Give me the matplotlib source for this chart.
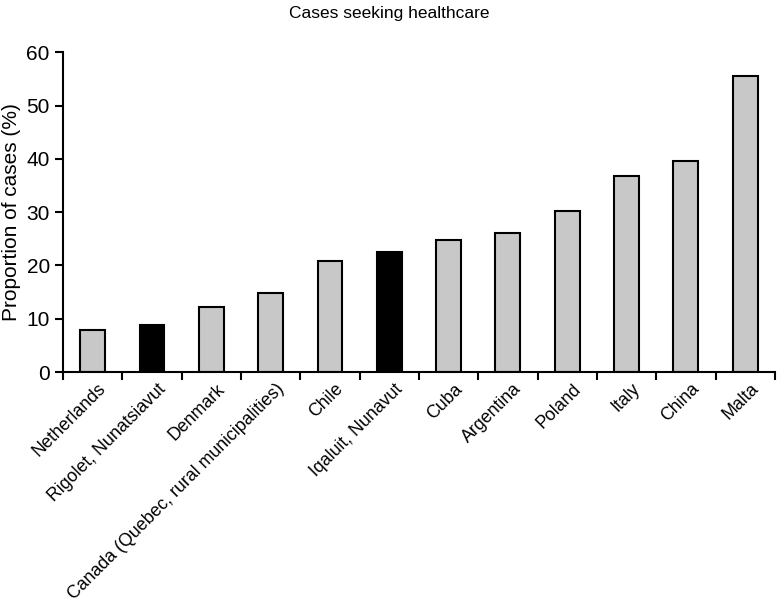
import matplotlib
matplotlib.use("Agg")
import matplotlib.pyplot as plt
import matplotlib.transforms as mtransforms
import numpy as np

plt.rcParams['font.family'] = ['Liberation Sans', 'DejaVu Sans']

places = ['Netherlands', 'Rigolet, Nunatsiavut', 'Denmark',
          'Canada (Quebec, rural municipalities)', 'Chile', 'Iqaluit, Nunavut',
          'Cuba', 'Argentina', 'Poland', 'Italy', 'China', 'Malta']
proportions = [7.9, 8.9, 12.2, 14.9, 20.9, 22.5, 24.7, 26.1, 30.3, 36.7, 39.5, 55.6]
inuit = [False, True, False, False, False, True, False, False, False, False, False, False]

fig = plt.figure(figsize=(7.78, 6.07), dpi=100)
ax = fig.add_axes([0.081, 0.387, 0.915, 0.527])

x = np.arange(len(places))
colours = ['black' if f else '#c8c8c8' for f in inuit]
ax.bar(x, proportions, width=0.42, color=colours, edgecolor='black', linewidth=1.5)

ax.set_xlim(-0.5, len(places) - 0.5)
ax.set_ylim(0, 60)
ax.set_yticks(range(0, 61, 10))

# category labels on the bar centres, tick marks between the bars
ax.set_xticks(x)
ax.set_xticklabels(places, rotation=45, ha='right', rotation_mode='anchor', fontsize=12.8)
ax.tick_params(axis='x', which='major', length=0, pad=6)
shift = mtransforms.ScaledTranslation(5 / 100, 0, fig.dpi_scale_trans)
for lab in ax.get_xticklabels():
    lab.set_transform(lab.get_transform() + shift)
ax.set_xticks(np.arange(-0.5, len(places), 1), minor=True)
ax.tick_params(axis='x', which='minor', length=6, width=1.5, direction='out')
ax.tick_params(axis='y', length=6, width=1.5, direction='out', labelsize=15)

for s in ['top', 'right']:
    ax.spines[s].set_visible(False)
for s in ['left', 'bottom']:
    ax.spines[s].set_linewidth(1.5)

ax.set_ylabel('Proportion of cases (%)', fontsize=15)
fig.text(0.5, 0.99, 'Cases seeking healthcare', ha='center', va='top', fontsize=12.5)

fig.savefig('out.png', dpi=100)
